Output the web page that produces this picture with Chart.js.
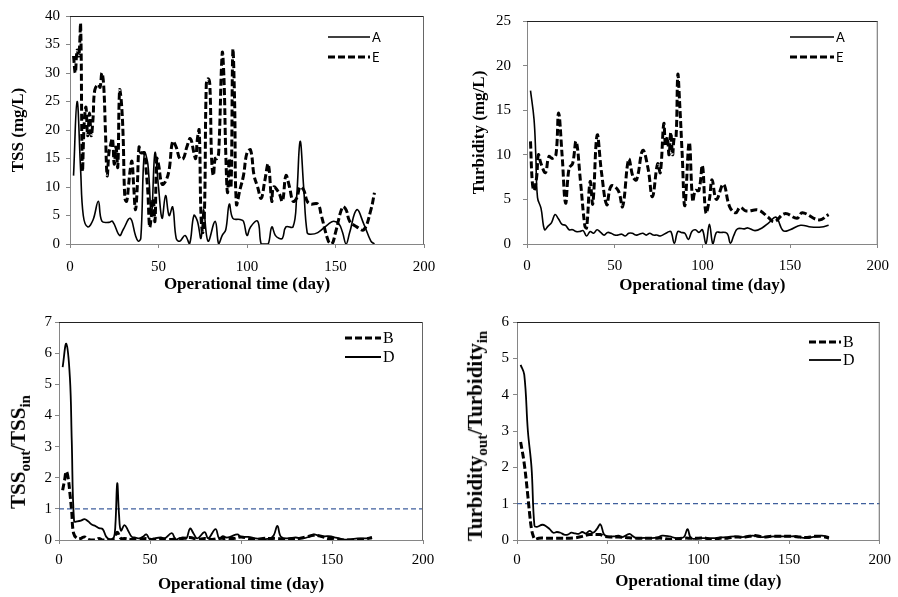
<!DOCTYPE html>
<html>
<head>
<meta charset="utf-8">
<script src="https://cdn.jsdelivr.net/npm/chart.js@4.4.1/dist/chart.umd.min.js"></script>
<style>
    body { margin: 0; background: #fff; }
    #wrap { position: relative; width: 898px; height: 597px; overflow: hidden; background: #fff; }
    #wrap canvas { position: absolute; }
    .legendRow { position: absolute; height: 20px; display: flex; align-items: center; white-space: nowrap; color: #000; }
    .legendRow svg { display: block; margin-right: 2px; }
    .yTitle { position: absolute; transform: translate(-50%, -50%) rotate(-90deg); white-space: nowrap;
              font-family: 'Liberation Serif', 'Times New Roman', serif; font-weight: bold; font-size: 21px; color: #000; }
    .yTitle sub { font-size: 15px; }
</style>
</head>
<body>
<div id="wrap">
    <canvas id="TssCanvas" width="449" height="300" style="left:0px;top:0px"></canvas>
    <canvas id="TurbidityCanvas" width="449" height="300" style="left:449px;top:0px"></canvas>
    <canvas id="TssRatioCanvas" width="449" height="297" style="left:0px;top:300px"></canvas>
    <canvas id="TurbidityRatioCanvas" width="449" height="297" style="left:449px;top:300px"></canvas>
    <div class="yTitle" style="left:20px;top:452px">TSS<sub>out</sub>/TSS<sub>in</sub></div>
    <div class="yTitle" style="left:477px;top:436px">Turbidity<sub>out</sub>/Turbidity<sub>in</sub></div>
</div>
<script>
//---------------------- DATA

// TSS (mg/L)
const tssDaysA = [2,4,6,7.5,10,13,16,18,22,24,28,30,34,37,38.5,40,42,44,46,48,50,52,54,56,58,60,62,65,67.5,70,72,74,75.5,78,82,84,86,88,90,92,96,98,100,102,106,108,110,112,114,116,118,120,122,126,128,130,132,134,136,140,146,149,152,154,156,158,162,166,170,172];
const tssA = [12,25,13,5,3,4.2,7.5,4,3.8,4,1.5,2.5,4.5,1.5,0.5,1,16,14,5,16,10,4.5,8.5,5,6.5,1,0.5,1.5,0,5,4,1,6,0.5,4,0,1.5,2.5,7,4.5,4.3,4,1.5,3,4,0,0,0,3,1.5,1,1,3,3,8,18,10,2,1.7,2,3.5,4,3.5,2,0,2,6,3.5,0.5,0];
const tssDaysE = [2,3,4,5,6,7,8,9,10,11,12,13,14,16,17,18,19,20,21,22,23,24,25,26,27,28,29,30,31,32,33,34,35,36,37,38,39,40,42,43,44,45,46,47,48,49,50,52,54,56,58,60,62,64,66,68,70,71,72,73,74,75,76,77,78,79,80,81,82,83,84,86,87,88,89,90,91,92,93,94,96,98,100,102,104,106,108,110,112,114,115,118,120,122,124,126,128,130,132,134,136,140,142,146,148,150,154,156,158,162,166,170,172];
const tssE = [33,30,34,33,38.5,13,21,24,19,23,19,22,27,28,27.5,30,28,20,12,16,17.5,18.5,14,17,13.5,27,25,19,8,7.5,10,13,14.5,10,6,10,17,16,16,13,9,3,5,8,4,15,14,10.5,11,13,18,17,15,15,17,18.5,16,15,18.5,20,5,2,6,28,29,28,15,12,15,15,16,33.5,29,16,9,15,10,34,25,7,9.5,12,16,16.5,12,10,8,11,14,7.5,10,9,7.5,12,10,7.5,8,10,9.5,7.5,7,7,5,0.5,0,2,6.5,6,4,3,2.5,6,9];

// Turbidity (mg/L)
const turbDaysA = [2,4,5,6,8,10,12,14,16,18,20,22,24,26,28,30,32,34,36,38,40,42,44,46,48,50,52,54,56,58,60,62,64,66,68,70,72,74,76,80,82,84,86,88,90,92,94,96,98,100,102,104,106,108,110,114,116,118,120,124,126,130,134,138,142,146,150,156,162,168,172];
const turbA = [17.2,14,10,5.2,4,1.6,2,2.4,3.3,2.8,2.2,2.1,1.6,1.6,1.4,1.4,1.5,0.9,1.4,1.2,1.6,1.3,1.0,1.3,1.2,1.0,1.0,1.1,0.9,1.2,1.2,1.0,1.1,1.2,1.0,1.2,1.0,1.0,0.9,1.3,1.4,0.1,1.4,1.3,1.2,0.5,1.4,1.6,1.3,1.6,0,2.2,0,1.3,1.3,1.2,0.1,1.0,1.7,1.7,1.8,1.5,1.8,2.4,3.0,1.5,1.6,2.1,1.9,1.9,2.1];
const turbDaysE = [2,3,4,5.5,6.5,8,10.5,12.5,14.5,16.5,18,20,22,24,26,28,30.5,33,34,36,37.5,40,42.5,45.5,48,52,54.5,58,60.5,62.5,66,69,71.5,74.5,76,78,79,80,81,82,83,84,85,86,87,88.5,90,92.5,94.5,96,98,100,102,104,105.5,108,112,115.5,119,121.5,125,132,137.5,141,147,154,157,166.5,172];
const turbE = [11.5,7,6,7.5,10,9,8,9.8,9.6,10,14.7,10,4.6,8.5,9,11.5,7,2,1.8,7,4.5,12.2,8,4.4,6.5,6,4.2,9.5,7.5,7.2,10.5,8.5,5.3,9,8,13.5,11,12,10,12.5,10,12,12,19,16,10,4.3,11.4,4.8,6,6,8.8,3.5,5,7.2,5,6.7,4.2,3.5,4.1,3.7,3.8,3,2.5,3.4,2.9,3.5,2.7,3.3];

// TSS out / TSS in
const tssRatioDaysB = [2,3,4,5,6,7,8,10,12,14,16,18,20,22,24,28,30,32,34,36,40,44,48,52,56,60,64,68,72,76,80,84,88,92,96,100,104,108,112,116,120,124,128,132,136,140,144,148,152,156,160,164,168,172];
const tssRatioB = [1.6,1.9,2.2,2.0,1.5,0.9,0.22,0.05,0.05,0.1,0.02,0,0,0.05,0,0,0.05,0.25,0.05,0.05,0.02,0.02,0.05,0,0.05,0.02,0.03,0.05,0.08,0.02,0.05,0.02,0.05,0.05,0.05,0.1,0.05,0.02,0.05,0.05,0.05,0.02,0.05,0.05,0.1,0.15,0.12,0.05,0.05,0,0,0.02,0.03,0.08];
const tssRatioDaysD = [2,4,6,7,8.3,10,12,14,16,18,20,22,24,26,28,30,31,32,33,34,36,38,40,42,44,46,48,50,52,56,58,62,64,66,68,70,72,74,76,80,82,86,88,90,92,94,98,100,104,108,112,116,118,120,122,126,130,134,138,140,144,148,152,156,160,164,168,172];
const tssRatioD = [5.55,6.3,5.2,3.2,0.6,0.6,0.62,0.67,0.6,0.5,0.45,0.38,0.35,0.1,0.02,0.05,0.5,1.82,0.8,0.3,0.48,0.3,0.1,0.08,0.05,0.1,0.18,0.02,0.05,0.08,0.05,0.22,0.02,0.05,0.08,0.05,0.37,0.2,0.05,0.25,0.05,0.35,0.05,0.12,0.08,0.1,0.18,0.1,0.1,0.05,0.03,0.05,0.15,0.45,0.1,0.05,0.08,0.05,0.12,0.18,0.12,0.12,0.08,0.02,0.02,0.05,0.05,0.05];

// Turbidity out / Turbidity in
const turbRatioDaysB = [2,4,6,7,8,9,10,12,16,20,24,28,32,36,40,44,46,48,52,56,60,64,68,72,76,80,84,88,92,96,100,104,108,112,116,120,124,128,132,136,140,144,148,152,156,160,164,168,172];
const turbRatioB = [2.7,2.1,1.2,0.7,0.3,0.1,0.02,0.05,0.05,0.05,0.05,0.05,0.06,0.1,0.15,0.15,0.15,0.1,0.08,0.08,0.07,0.05,0.05,0.05,0.05,0.05,0.02,0.03,0.05,0.05,0.05,0.05,0,0.05,0.05,0.08,0.08,0.1,0.12,0.08,0.1,0.1,0.1,0.1,0.08,0.07,0.1,0.1,0.05];
const turbRatioDaysD = [2,4,6,8,9.6,11,14,16,18,20,22,24,26,28,30,32,34,36,38,40,42,44,46,48,50,54,56,58,62,64,66,70,74,78,80,84,88,92,94,96,100,104,108,112,116,120,124,128,130,134,138,142,146,150,154,158,162,166,168,172];
const turbRatioD = [4.82,4.55,3.0,2.0,0.4,0.36,0.42,0.38,0.3,0.2,0.22,0.2,0.15,0.15,0.2,0.18,0.17,0.22,0.18,0.25,0.2,0.3,0.43,0.15,0.1,0.1,0.12,0.08,0.17,0.1,0.05,0.06,0.05,0.08,0.12,0.1,0.05,0.08,0.3,0.05,0.05,0.05,0.05,0.07,0.08,0.1,0.08,0.1,0.12,0.08,0.09,0.1,0.1,0.1,0.1,0.06,0.08,0.1,0.12,0.08];

// ratio = 1 guide line
const refDays = [0, 200];
const refRatio = [1, 1];

const SERIF = "'Liberation Serif', 'Times New Roman', serif";
const AXIS_GREY = '#868686';

// top and right edges of the plot frame
const frameLines = {
    id: 'frameLines',
    afterDatasetsDraw(chart) {
        const {ctx, chartArea} = chart;
        ctx.save();
        ctx.lineWidth = 1;
        ctx.setLineDash([]);
        ctx.strokeStyle = '#222';
        ctx.beginPath();
        ctx.moveTo(chartArea.left, chartArea.top + 0.5);
        ctx.lineTo(chartArea.right, chartArea.top + 0.5);
        ctx.stroke();
        ctx.strokeStyle = '#666';
        ctx.beginPath();
        ctx.moveTo(chartArea.right - 0.5, chartArea.top);
        ctx.lineTo(chartArea.right - 0.5, chartArea.bottom);
        ctx.stroke();
        ctx.restore();
    }
};

//---------------------- CALLS

const tssChart = plotPanel('TssCanvas', [
    solidSet('A', tssDaysA, tssA, 1.6),
    dashedSet('E', tssDaysE, tssE)
], {yMax: 40, yStep: 5, yTitle: 'TSS (mg/L)', yTitlePad: 8, yWidth: 70, yTickPad: 6,
    padding: {left: 0, top: 16, right: 25, bottom: 0}, xHeight: 56, xTickPad: 10, xTitlePad: 5});

const turbidityChart = plotPanel('TurbidityCanvas', [
    solidSet('A', turbDaysA, turbA, 1.6),
    dashedSet('E', turbDaysE, turbE)
], {yMax: 25, yStep: 5, yTitle: 'Turbidity (mg/L)', yTitlePad: 20, yWidth: 78, yTickPad: 12,
    padding: {left: 0, top: 16, right: 16, bottom: 0}, xHeight: 56, xTickPad: 9, xTitlePad: 4});

const tssRatioChart = plotPanel('TssRatioCanvas', [
    dashedSet('B', tssRatioDaysB, tssRatioB),
    solidSet('D', tssRatioDaysD, tssRatioD, 1.8),
    refSet()
], {yMax: 7, yStep: 1, yTitle: '', yTitlePad: 0, yWidth: 59, yTickPad: 3,
    padding: {left: 0, top: 22, right: 26, bottom: 0}, xHeight: 57, xTickPad: 7, xTitlePad: 2});

const turbidityRatioChart = plotPanel('TurbidityRatioCanvas', [
    dashedSet('B', turbRatioDaysB, turbRatioB),
    solidSet('D', turbRatioDaysD, turbRatioD, 1.8),
    refSet()
], {yMax: 6, yStep: 1, yTitle: '', yTitlePad: 0, yWidth: 68, yTickPad: 4,
    padding: {left: 0, top: 22, right: 12, bottom: 0}, xHeight: 57, xTickPad: 7, xTitlePad: 5});

addLegend(tssChart, 328, 37, 42, 20, "13px 'Lato', 'Liberation Sans', sans-serif");
addLegend(turbidityChart, 790, 37, 44, 20, "13px 'Lato', 'Liberation Sans', sans-serif");
addLegend(tssRatioChart, 345, 338, 36, 19, "16px " + SERIF);
addLegend(turbidityRatioChart, 809, 342, 32, 18, "16px " + SERIF);

//---------------------- FUNCTIONS

function toPoints(days, values) {
    return days.map((d, i) => ({x: d, y: values[i]}));
}

function solidSet(label, days, values, width) {
    return {
        label: label,
        data: toPoints(days, values),
        borderColor: '#000',
        borderWidth: width,
        pointRadius: 0,
        tension: 0.4
    };
}

function dashedSet(label, days, values) {
    return {
        label: label,
        data: toPoints(days, values),
        borderColor: '#000',
        borderWidth: 3,
        borderDash: [7, 3],
        pointRadius: 0,
        tension: 0.4
    };
}

function refSet() {
    return {
        label: '',
        data: toPoints(refDays, refRatio),
        borderColor: '#3f5f9d',
        borderWidth: 1.2,
        borderDash: [5, 3],
        pointRadius: 0,
        tension: 0
    };
}

function plotPanel(canvasId, datasets, cfg) {
    return new Chart(document.getElementById(canvasId).getContext('2d'), {
        type: 'line',
        data: {datasets: datasets},
        options: {
            responsive: false,
            animation: false,
            devicePixelRatio: 1,
            layout: {padding: cfg.padding},
            plugins: {
                legend: {display: false},
                tooltip: {enabled: false}
            },
            scales: {
                x: {
                    type: 'linear',
                    min: 0,
                    max: 200,
                    ticks: {stepSize: 50, padding: cfg.xTickPad, color: '#000', font: {family: SERIF, size: 15}},
                    grid: {drawOnChartArea: false, drawTicks: true, tickLength: 4, tickColor: AXIS_GREY},
                    border: {color: AXIS_GREY, width: 1},
                    title: {
                        display: true,
                        text: 'Operational time (day)',
                        color: '#000',
                        font: {family: SERIF, size: 17, weight: 'bold'},
                        padding: {top: 0, bottom: cfg.xTitlePad}
                    },
                    afterFit: scale => { scale.height = cfg.xHeight; }
                },
                y: {
                    type: 'linear',
                    min: 0,
                    max: cfg.yMax,
                    ticks: {stepSize: cfg.yStep, padding: cfg.yTickPad, color: '#000', font: {family: SERIF, size: 15}},
                    grid: {drawOnChartArea: false, drawTicks: true, tickLength: 4, tickColor: AXIS_GREY},
                    border: {color: AXIS_GREY, width: 1},
                    title: {
                        display: cfg.yTitle !== '',
                        text: cfg.yTitle,
                        color: '#000',
                        font: {family: SERIF, size: 17, weight: 'bold'},
                        padding: {top: cfg.yTitlePad, bottom: 0}
                    },
                    afterFit: scale => { scale.width = cfg.yWidth; }
                }
            }
        },
        plugins: [frameLines]
    });
}

// legend rows placed inside the plot, built from the chart's own datasets
function addLegend(chart, left, centerY, lineLen, rowGap, font) {
    const wrap = document.getElementById('wrap');
    const items = chart.data.datasets.filter(ds => ds.label !== '');
    items.forEach((ds, i) => {
        const row = document.createElement('div');
        row.className = 'legendRow';
        row.style.left = left + 'px';
        row.style.top = (centerY + i * rowGap - 10) + 'px';
        row.style.font = font;
        const dash = ds.borderDash ? ds.borderDash.join(' ') : 'none';
        row.innerHTML = `<svg width="${lineLen}" height="20"><line x1="0" y1="10" x2="${lineLen}" y2="10" stroke="${ds.borderColor}" stroke-width="${ds.borderWidth}" stroke-dasharray="${dash}"/></svg><span>${ds.label}</span>`;
        wrap.appendChild(row);
    });
}
</script>
</body>
</html>
